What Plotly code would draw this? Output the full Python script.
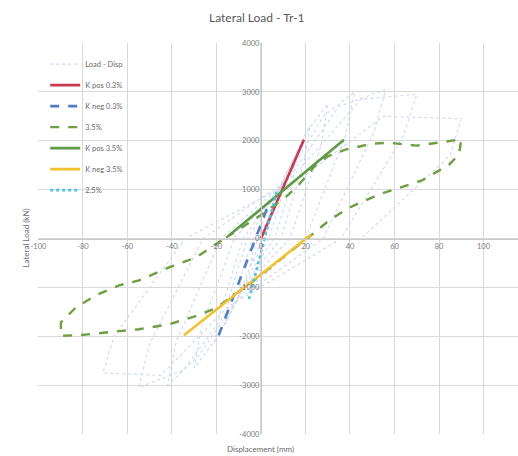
import plotly.graph_objects as go

# Load - displacement hysteresis record (mm, kN)
disp_hyst = [0, 2.5, 5, 4, 1.5, -2.5, -5, -4, -1.5,
             4, 10, 8.5, 3.5, -4, -10, -8.5, -3.5,
             5, 16, 14, 6, -5, -16, -14, -6,
             6, 22, 19.5, 9, -6, -21, -18, -8,
             8, 20, 30, 27, 13, -8, -20, -30, -27, -12,
             10, 28, 42, 38, 20, -10, -28, -42, -38, -18,
             12, 35, 56, 51, 28, -12, -35, -55, -50, -26,
             15, 45, 70, 64, 36, -15, -45, -71, -66, -34,
             20, 55, 90, 85, 45]
load_hyst = [0, 300, 600, 350, 0, -300, -600, -350, 0,
             450, 1150, 700, 0, -500, -1150, -700, 0,
             700, 1750, 1150, 0, -700, -1750, -1150, 0,
             850, 2300, 1600, 0, -850, -2150, -1450, 0,
             1000, 2150, 2750, 1900, 0, -1000, -2050, -2650, -1850, 0,
             1100, 2500, 3000, 2100, 0, -1200, -2400, -3000, -2100, 0,
             1200, 2700, 3050, 2200, 0, -1300, -2700, -3050, -2150, 0,
             1300, 2850, 2950, 2100, 0, -1400, -2800, -2750, -2000, 0,
             1300, 2500, 2450, 1700, 0]

# Secant / tangent stiffness lines
k_pos_03_x = [0, 19.3]
k_pos_03_y = [0, 2020]
k_neg_03_x = [-19, 3]
k_neg_03_y = [-1980, 650]
k_pos_35_x = [-14.4, 37.3]
k_pos_35_y = [60, 2020]
k_neg_35_x = [-34.6, 22.5]
k_neg_35_y = [-1980, 80]
k_25_x = [-5.4, 7]
k_25_y = [-1240, 950]

# 3.5% drift cycle
cyc35_x = [-15.7, -8, 0, 11, 17, 24.7, 30, 38, 50, 57.5, 63, 69.7, 75, 80, 90,
           89, 84.5, 72.4, 62, 53, 39.5, 30.6, 22.9, 15, 5, -5.4, -12, -20, -30,
           -41.3, -54.8, -67, -81.8, -89.9,
           -89.9, -83.1, -74.2, -63.8, -54.8, -41.3, -29.2, -15.7]
cyc35_y = [20, 250, 480, 840, 1100, 1510, 1680, 1820, 1940, 1960, 1930, 1900, 1930, 1960, 2030,
           1720, 1510, 1190, 1040, 900, 630, 370, 80, -200, -560, -940, -1150, -1420, -1600,
           -1754, -1856, -1918, -1979, -1990,
           -1714, -1408, -1163, -959, -857, -592, -388, 20]

x_ticks = [-100, -80, -60, -40, -20, 0, 20, 40, 60, 80, 100]
y_ticks = [-4000, -3000, -2000, -1000, 0, 1000, 2000, 3000, 4000]

x_range = [-100.2, 115.5]
y_range = [-4000, 4000]

fig = go.Figure()

series = [
    ("Load - Disp", disp_hyst, load_hyst, "#cdd7f0", "dot", 1.1),
    ("K pos 0.3%", k_pos_03_x, k_pos_03_y, "#c8384e", "solid", 2.6),
    ("K neg 0.3%", k_neg_03_x, k_neg_03_y, "#4f7fc0", "dash", 2.6),
    ("3.5%", cyc35_x, cyc35_y, "#6f9e43", "dash", 2.4),
    ("K pos 3.5%", k_pos_35_x, k_pos_35_y, "#5f9a48", "solid", 2.6),
    ("K neg 3.5%", k_neg_35_x, k_neg_35_y, "#f2c12e", "solid", 2.6),
    ("2.5%", k_25_x, k_25_y, "#4cc3e6", "dot", 2.6),
]
for i, (name, xs, ys, col, dash, w) in enumerate(series):
    fig.add_trace(go.Scatter(
        x=xs, y=ys, mode="lines", name=name, legendgroup=f"g{i}",
        line=dict(color=col, dash=dash, width=w),
    ))

grid = "#d9d9d9"
tick_font = dict(family="Lato, Liberation Sans, sans-serif", size=7.5, color="#7a7a7a")

fig.update_xaxes(
    range=x_range, tickvals=x_ticks, ticktext=[str(v) for v in x_ticks],
    showgrid=True, gridcolor=grid, gridwidth=1, zeroline=False,
    showline=True, linecolor="#c8c8c8", linewidth=1,
    anchor="free", position=0.5, ticks="", tickfont=tick_font,
)
x0_frac = (0 - x_range[0]) / (x_range[1] - x_range[0])
fig.update_yaxes(
    range=y_range, tickvals=y_ticks, ticktext=[str(v) for v in y_ticks],
    showgrid=True, gridcolor=grid, gridwidth=1, zeroline=False,
    showline=True, linecolor="#c8c8c8", linewidth=1,
    anchor="free", position=x0_frac, ticks="", tickfont=tick_font,
)

fig.update_layout(
    width=518, height=456,
    margin=dict(l=38, r=0, t=43, b=22),
    paper_bgcolor="white", plot_bgcolor="white",
    font=dict(family="Lato, Liberation Sans, sans-serif", color="#595959"),
    showlegend=True,
    legend=dict(
        x=0.015, y=0.983, xanchor="left", yanchor="top",
        bgcolor="rgba(0,0,0,0)", font=dict(size=7.5, color="#6a6a6a"),
        tracegroupgap=2, itemwidth=30,
    ),
    annotations=[
        dict(text="Lateral Load - Tr-1", xref="paper", yref="paper",
             x=0.457, y=1.064, xanchor="center", yanchor="middle",
             showarrow=False, font=dict(size=12, color="#595959")),
        dict(text="Displacement (mm)", xref="paper", yref="paper",
             x=x0_frac, y=-0.038, xanchor="center", yanchor="middle",
             showarrow=False, font=dict(size=8, color="#6a6a6a")),
        dict(text="Lateral Load (kN)", xref="paper", yref="paper",
             x=-0.027, y=0.5, xanchor="center", yanchor="middle", textangle=-90,
             showarrow=False, font=dict(size=8, color="#6a6a6a")),
    ],
)

fig.write_html("out.html")
